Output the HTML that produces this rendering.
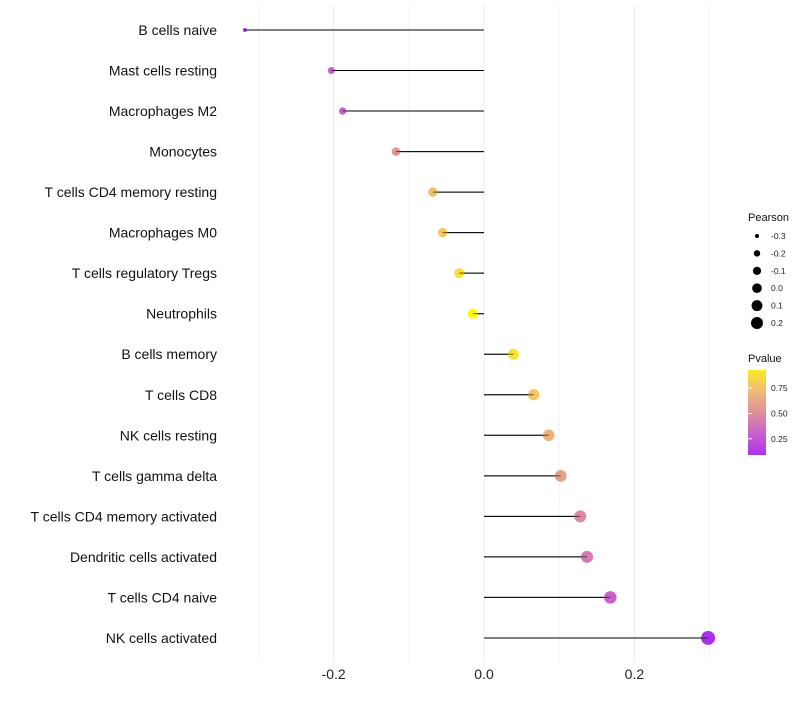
<!DOCTYPE html>
<html><head><meta charset="utf-8"><style>
body{margin:0;background:#fff;font-family:"Liberation Sans",sans-serif}
svg text{font-family:"Liberation Sans",sans-serif}
</style></head><body>
<svg id="chart" width="800" height="700"></svg>
<script>
const categories=["B cells naive","Mast cells resting","Macrophages M2","Monocytes","T cells CD4 memory resting","Macrophages M0","T cells regulatory  Tregs","Neutrophils","B cells memory","T cells CD8","NK cells resting","T cells gamma delta","T cells CD4 memory activated","Dendritic cells activated","T cells CD4 naive","NK cells activated"];
const pearson=[-0.318,-0.203,-0.188,-0.117,-0.068,-0.055,-0.033,-0.015,0.039,0.066,0.086,0.102,0.128,0.137,0.168,0.298];
const pvalue=[0.08,0.3,0.3,0.55,0.75,0.78,0.88,1.0,0.9,0.78,0.68,0.6,0.48,0.42,0.3,0.08];
const xTicks=[-0.2,0.0,0.2];
const xTickLabels=["-0.2","0.0","0.2"];
const gridVals=[-0.3,-0.1,0.1,0.3];
const sizeLegend=[-0.3,-0.2,-0.1,0.0,0.1,0.2];
const sizeLegendLabels=["-0.3","-0.2","-0.1","0.0","0.1","0.2"];
const colorLegend=[0.75,0.5,0.25];
const colorLegendLabels=["0.75","0.50","0.25"];

const NS="http://www.w3.org/2000/svg";
const svg=document.getElementById('chart');
const x=v=>484+v*752;
const y=i=>30+i*40.53;
const r=v=>Math.sqrt(4+Math.max(0,v+0.32)*72);
const rl=v=>Math.sqrt(4+Math.max(0,v+0.3)*64);
const stops=[[0,[160,32,240]],[0.25,[196,83,216]],[0.5,[221,142,156]],[0.75,[240,192,112]],[1,[255,250,0]]];
function col(p){p=Math.max(0,Math.min(1,p));for(let k=0;k<stops.length-1;k++){const a=stops[k],b=stops[k+1];if(p<=b[0]){const t=(p-a[0])/(b[0]-a[0]);const c=a[1].map((v,j)=>Math.round(v+(b[1][j]-v)*t));return `rgb(${c})`;}}return 'rgb(255,250,0)';}
function el(tag,attrs,text){const e=document.createElementNS(NS,tag);for(const k in attrs)e.setAttribute(k,attrs[k]);if(text!==undefined)e.textContent=text;svg.appendChild(e);return e;}

gridVals.forEach(v=>{const g=el('line',{x1:x(v),x2:x(v),y1:5,y2:662,stroke:'#f3f3f3','stroke-width':1});

});
xTicks.forEach((v,i)=>{const g=el('line',{x1:x(v),x2:x(v),y1:5,y2:662,stroke:'#ececec','stroke-width':1});


const t=el('text',{x:x(v),y:679,'text-anchor':'middle','font-size':14,fill:'#222'},xTickLabels[i]);

});

categories.forEach((c,i)=>{
const t=el('text',{x:217,y:y(i)+5,'text-anchor':'end','font-size':14,fill:'#111'},c);


const l=el('line',{x1:x(0),x2:x(pearson[i]),y1:y(i),y2:y(i),stroke:'#000','stroke-width':1});


const d=el('circle',{cx:x(pearson[i]),cy:y(i),r:r(pearson[i]),fill:col(pvalue[i])});


const l2=el('line',{x1:x(0),x2:x(pearson[i]),y1:y(i),y2:y(i),stroke:'#000','stroke-width':1,opacity:0.6});


});

const pt=el('text',{x:748,y:221,'font-size':11,fill:'#111'},'Pearson');


sizeLegend.forEach((v,i)=>{const yy=236+i*17.4;
const c=el('circle',{cx:757,cy:yy,r:rl(v),fill:'#000'});


const t=el('text',{x:771,y:yy+3,'font-size':8.5,fill:'#222'},sizeLegendLabels[i]);

});

const vt=el('text',{x:748,y:362,'font-size':11,fill:'#111'},'Pvalue');


const defs=el('defs',{});
const lg=document.createElementNS(NS,'linearGradient');lg.setAttribute('id','pg');lg.setAttribute('x1','0');lg.setAttribute('y1','1');lg.setAttribute('x2','0');lg.setAttribute('y2','0');defs.appendChild(lg);
const pTop=0.93,pBot=0.09;
for(let k=0;k<=10;k++){const p=pBot+(pTop-pBot)*k/10;const s=document.createElementNS(NS,'stop');s.setAttribute('offset',k/10);s.setAttribute('stop-color',col(p));lg.appendChild(s);}
const bar=el('rect',{x:748,y:370,width:18,height:85,fill:'url(#pg)'});


const py=p=>455-(p-pBot)/(pTop-pBot)*85;
colorLegend.forEach((p,i)=>{
const tk=el('line',{x1:748,x2:752,y1:py(p),y2:py(p),stroke:'#fff','stroke-width':1});


const t=el('text',{x:771,y:py(p)+3,'font-size':8.5,fill:'#222'},colorLegendLabels[i]);

});
</script>
</body></html>
